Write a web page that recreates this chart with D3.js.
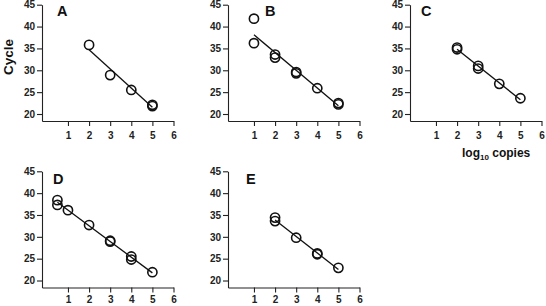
<!DOCTYPE html>
<html lang="en">
<head>
<meta charset="utf-8">
<title>Cycle vs log10 copies</title>
<script src="https://d3js.org/d3.v7.min.js"></script>
<style>
  body { margin: 0; background: #fff; }
  svg { display: block; font-family: Arial, "Liberation Sans", sans-serif; }
  .tick text { font-weight: bold; font-size: 10px; fill: #222; }
  .domain, .tick line { stroke: #222; stroke-width: 1.1; }
</style>
</head>
<body>
<div id="chart"></div>
<script>
// Data
const xTicks = [1, 2, 3, 4, 5, 6];
const yTicks = [20, 25, 30, 35, 40, 45];

const panelA_x = [2, 3, 4, 5, 5];
const panelA_y = [35.8, 28.9, 25.5, 22.1, 21.8];

const panelB_x = [1, 1, 2, 2, 3, 3, 4, 5, 5];
const panelB_y = [41.8, 36.2, 33.6, 32.9, 29.6, 29.3, 25.9, 22.5, 22.2];

const panelC_x = [2, 2, 3, 3, 4, 5];
const panelC_y = [35.2, 34.8, 31.0, 30.4, 26.9, 23.6];

const panelD_x = [0.5, 0.5, 1, 2, 3, 3, 4, 4, 5];
const panelD_y = [38.4, 37.3, 36.1, 32.7, 29.1, 28.9, 25.5, 24.8, 21.9];

const panelE_x = [2, 2, 3, 4, 4, 5];
const panelE_y = [34.4, 33.6, 29.8, 26.2, 26.0, 22.9];

const panelLabels = ["A", "B", "C", "D", "E"];

// Layout
const width = 546, height = 306;
const plotW = 131.5;
const panels = [
  { xs: panelA_x, ys: panelA_y, left: 42,  top: 4.7,   bottom: 121,   lx: 15, ly: 16,  pad: 6 },
  { xs: panelB_x, ys: panelB_y, left: 228, top: 4.7,   bottom: 121,   lx: 37, ly: 16,  pad: 6 },
  { xs: panelC_x, ys: panelC_y, left: 410, top: 4.7,   bottom: 121,   lx: 11, ly: 16,  pad: 6 },
  { xs: panelD_x, ys: panelD_y, left: 42,  top: 171.3, bottom: 287.5, lx: 11, ly: 184, pad: 3.5 },
  { xs: panelE_x, ys: panelE_y, left: 228, top: 171.3, bottom: 287.5, lx: 18, ly: 184, pad: 3.5 }
];

const svg = d3.select("#chart").append("svg")
  .attr("width", width)
  .attr("height", height);

// least squares line through a panel's points
function fitLine(xs, ys) {
  const mx = d3.mean(xs), my = d3.mean(ys);
  let sxy = 0, sxx = 0;
  xs.forEach((x, i) => { sxy += (x - mx) * (ys[i] - my); sxx += (x - mx) ** 2; });
  const b = sxy / sxx, a = my - b * mx;
  const x0 = d3.min(xs), x1 = d3.max(xs);
  return [[x0, a + b * x0], [x1, a + b * x1]];
}

panels.forEach((p, k) => {
  const x = d3.scaleLinear().domain([-0.23, 6]).range([p.left, p.left + plotW]);
  const y = d3.scaleLinear().domain([18.4, 45]).range([p.bottom, p.top]);

  svg.append("g")
    .attr("transform", `translate(0,${p.bottom})`)
    .call(d3.axisBottom(x).tickValues(xTicks).tickSize(5).tickPadding(p.pad).tickSizeOuter(0).tickFormat(d3.format("d")));

  svg.append("g")
    .attr("transform", `translate(${p.left},0)`)
    .call(d3.axisLeft(y).tickValues(yTicks).tickSize(5).tickPadding(2).tickSizeOuter(0).tickFormat(d3.format("d")));

  const fit = fitLine(p.xs, p.ys);
  svg.append("line")
    .attr("x1", x(fit[0][0])).attr("y1", y(fit[0][1]))
    .attr("x2", x(fit[1][0])).attr("y2", y(fit[1][1]))
    .attr("stroke", "#111").attr("stroke-width", 1.3);

  svg.append("g").selectAll("circle")
    .data(p.xs.map((d, i) => [d, p.ys[i]]))
    .join("circle")
    .attr("cx", d => x(d[0]))
    .attr("cy", d => y(d[1]))
    .attr("r", 4.6)
    .attr("fill", "none")
    .attr("stroke", "#111")
    .attr("stroke-width", 1.6);

  svg.append("text")
    .attr("x", p.left + p.lx)
    .attr("y", p.ly)
    .attr("font-size", "14.5px")
    .attr("font-weight", "bold")
    .attr("fill", "#111")
    .text(panelLabels[k]);
});

// Axis titles
svg.append("text")
  .attr("transform", "translate(13,57) rotate(-90)")
  .attr("text-anchor", "middle")
  .attr("font-size", "13.5px")
  .attr("font-weight", "bold")
  .attr("fill", "#111")
  .text("Cycle");

const xt = svg.append("text")
  .attr("x", 462)
  .attr("y", 157)
  .attr("font-size", "12px")
  .attr("font-weight", "bold")
  .attr("fill", "#111");
xt.append("tspan").text("log");
xt.append("tspan").attr("font-size", "8px").attr("dy", "2.5").text("10");
xt.append("tspan").attr("dy", "-2.5").text(" copies");
</script>
</body>
</html>
